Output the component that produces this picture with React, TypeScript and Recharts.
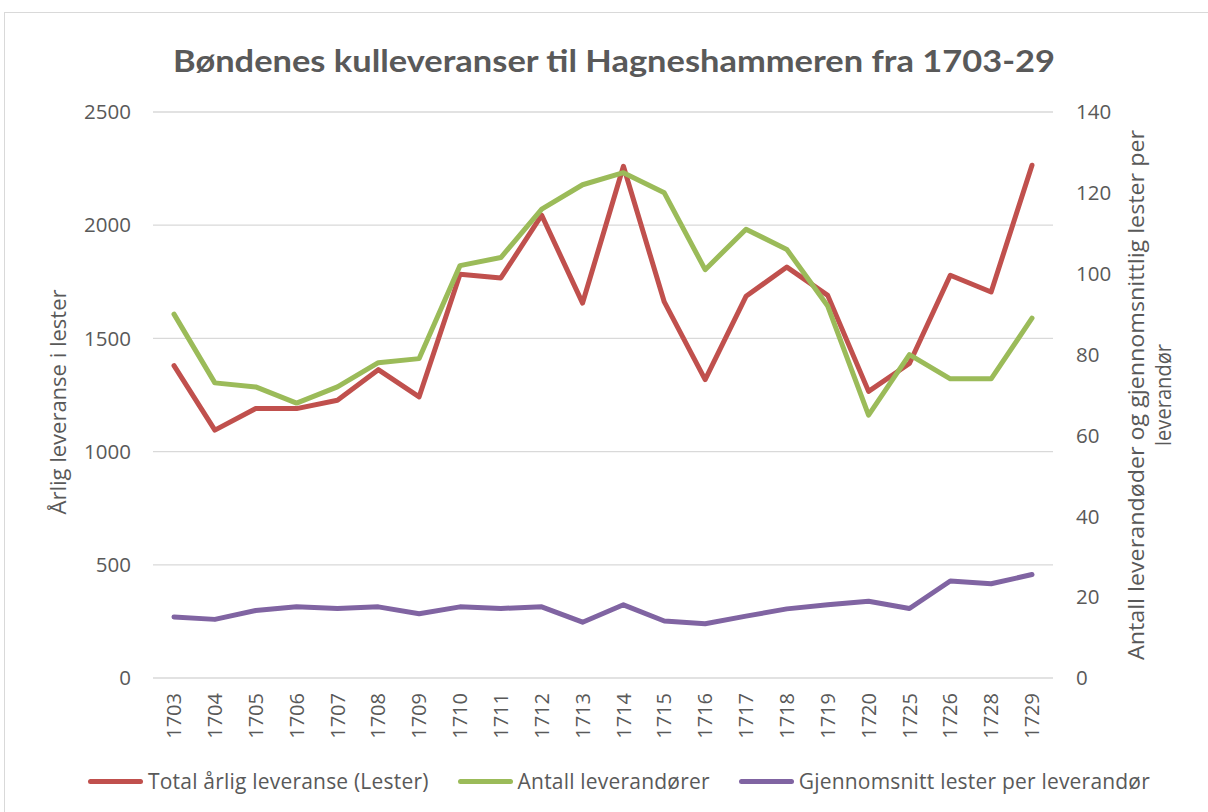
import React from 'react';
import { LineChart, Line, XAxis, YAxis, CartesianGrid } from 'recharts';

const years = ['1703','1704','1705','1706','1707','1708','1709','1710','1711','1712','1713','1714','1715','1716','1717','1718','1719','1720','1725','1726','1728','1729'];
const totalDeliveries = [1380,1095,1190,1190,1227,1362,1242,1783,1767,2044,1656,2260,1661,1318,1686,1815,1690,1266,1389,1779,1705,2265];
const supplierCounts = [90,73,72,68,72,78,79,102,104,116,122,125,120,101,111,106,92,65,80,74,74,89];
const averagePerSupplier = [15.1,14.5,16.7,17.6,17.2,17.6,15.9,17.6,17.2,17.6,13.8,18.1,14.1,13.4,15.3,17.1,18.1,19.0,17.2,24.0,23.3,25.6];

const leftTicks = [0,500,1000,1500,2000,2500];
const rightTicks = [0,20,40,60,80,100,120,140];

const seriesNames = ['Total årlig leveranse (Lester)', 'Antall leverandører', 'Gjennomsnitt lester per leverandør'];
const seriesColors = ['#C0504D', '#9BBB59', '#8064A2'];

const title = 'Bøndenes kulleveranser til Hagneshammeren fra 1703-29';
const leftLabel = 'Årlig leveranse i lester';
const rightLabelLines = ['Antall leverandøder og gjennomsnittlig lester per', 'leverandør'];

const data = years.map((y, i) => ({
  year: y,
  total: totalDeliveries[i],
  count: supplierCounts[i],
  avg: averagePerSupplier[i],
}));

const FONT = '"Open Sans", Lato, sans-serif';
const TITLE_FONT = 'Lato, "Open Sans", sans-serif';
const TXT = '#595959';

const XTick = (props: any) => {
  const { x, y, payload } = props;
  return (
    <text x={x} y={y} transform={`rotate(-90, ${x}, ${y})`} textAnchor="end" dy="0.36em" fontSize={20} fill={TXT} fontFamily={FONT}>
      {payload.value}
    </text>
  );
};

export default function App() {
  return (
    <div style={{ position: 'absolute', left: 0, top: 0, width: 1208, height: 812, overflow: 'hidden', background: '#fff', fontFamily: FONT }}>
      <div style={{ position: 'absolute', left: 4, top: 12, width: 1240, height: 840, border: '1px solid #D9D9D9', boxSizing: 'border-box' }} />
      <div style={{ position: 'absolute', left: 0, top: 0 }}>
        <LineChart width={1208} height={812} data={data} margin={{ top: 112, right: 0, bottom: 64, left: 0 }}>
          <text x={614} y={72} textAnchor="middle" fontSize={31} fontWeight="bold" fill={TXT} fontFamily={TITLE_FONT} textLength={882} lengthAdjust="spacingAndGlyphs">{title}</text>
          <CartesianGrid vertical={false} stroke="#D9D9D9" strokeWidth={1.3} yAxisId="left" />
          <XAxis dataKey="year" axisLine={false} tickLine={false} tickSize={0} tickMargin={15} height={70} interval={0} padding={{ left: 21, right: 21 }} tick={<XTick />} />
          <YAxis
            yAxisId="left"
            orientation="left"
            width={153}
            domain={[0, 2500]}
            ticks={leftTicks}
            axisLine={false}
            tickLine={false}
            tickSize={0}
            tickMargin={22}
            tick={{ fontSize: 20.5, fill: TXT, fontFamily: FONT }}
            label={(p: any) => {
              const cx = 66;
              const cy = 402;
              return (
                <text x={cx} y={cy} transform={`rotate(-90, ${cx}, ${cy})`} textAnchor="middle" fontSize={21} fill={TXT} fontFamily={FONT} textLength={225} lengthAdjust="spacingAndGlyphs">
                  {leftLabel}
                </text>
              );
            }}
          />
          <YAxis
            yAxisId="right"
            orientation="right"
            width={155}
            domain={[0, 140]}
            ticks={rightTicks}
            axisLine={false}
            tickLine={false}
            tickSize={0}
            tickMargin={23}
            tick={{ fontSize: 20.5, fill: TXT, fontFamily: FONT }}
            label={(p: any) => {
              const cx = 1144;
              const cy = 395;
              return (
                <g>
                  <text x={cx} y={cy} transform={`rotate(-90, ${cx}, ${cy})`} textAnchor="middle" fontSize={21} fill={TXT} fontFamily={FONT} textLength={530} lengthAdjust="spacingAndGlyphs">
                    {rightLabelLines[0]}
                  </text>
                  <text x={cx + 27} y={cy} transform={`rotate(-90, ${cx + 27}, ${cy})`} textAnchor="middle" fontSize={21} fill={TXT} fontFamily={FONT} textLength={102} lengthAdjust="spacingAndGlyphs">
                    {rightLabelLines[1]}
                  </text>
                </g>
              );
            }}
          />
          <Line yAxisId="left" type="linear" dataKey="total" stroke={seriesColors[0]} strokeWidth={5} dot={false} strokeLinecap="round" strokeLinejoin="round" isAnimationActive={false} />
          <Line yAxisId="right" type="linear" dataKey="count" stroke={seriesColors[1]} strokeWidth={5} dot={false} strokeLinecap="round" strokeLinejoin="round" isAnimationActive={false} />
          <Line yAxisId="right" type="linear" dataKey="avg" stroke={seriesColors[2]} strokeWidth={5} dot={false} strokeLinecap="round" strokeLinejoin="round" isAnimationActive={false} />
        </LineChart>
      </div>
      <div style={{ position: 'absolute', left: 29, top: 766, width: 1180, height: 30, display: 'flex', justifyContent: 'center', alignItems: 'center', gap: 29 }}>
        {seriesNames.map((n, i) => (
          <div key={n} style={{ display: 'flex', alignItems: 'center' }}>
            <span style={{ display: 'inline-block', width: 55, height: 5, borderRadius: 3, background: seriesColors[i], marginRight: 5 }} />
            <span style={{ fontSize: 21, letterSpacing: 0.2, color: TXT, whiteSpace: 'nowrap' }}>{n}</span>
          </div>
        ))}
      </div>
    </div>
  );
}
